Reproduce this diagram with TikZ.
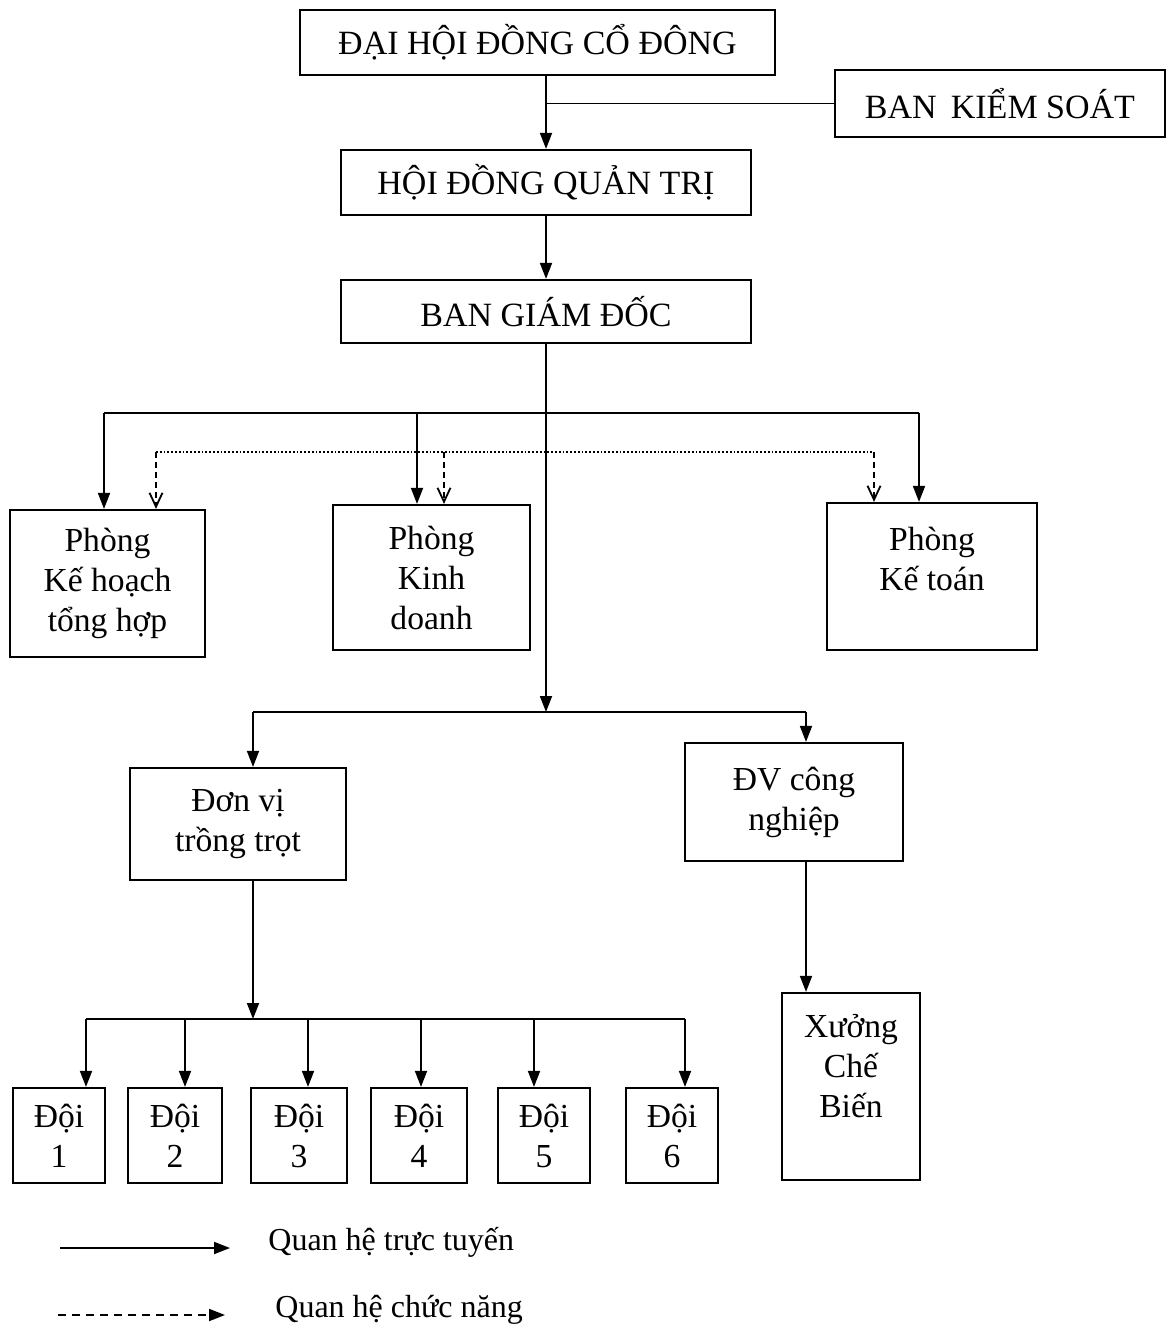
\documentclass[tikz,border=0pt]{standalone}
\usepackage{fontspec}
\setmainfont{Liberation Serif}
\usetikzlibrary{arrows.meta}
\begin{document}
\begin{tikzpicture}[x=0.5pt,y=-0.5pt,
  box/.style={draw, line width=1.1pt, inner sep=0pt, align=center, font=\fontsize{16.8}{20}\selectfont},
  bigbox/.style={box, font=\fontsize{17}{20}\selectfont},
  ln/.style={line width=0.9pt},
  arr/.style={ln, -{Triangle[length=8pt,width=6pt]}},
  farr/.style={ln, dash pattern=on 3pt off 2pt, -{Straight Barb[length=7pt,width=6.5pt]}},
  legtext/.style={anchor=west, inner sep=0pt, font=\fontsize{16}{20}\selectfont},
]
\useasboundingbox (0,0) rectangle (1167,1331);

% boxes
\node[bigbox, minimum width=237.5pt, minimum height=32.5pt] (dhcd) at (537.5,42.5) {ĐẠI HỘI ĐỒNG CỔ ĐÔNG};
\node[bigbox, minimum width=165pt, minimum height=33.5pt] (bks) at (1000,103.5) {BAN\, KIỂM SOÁT};
\node[bigbox, minimum width=205pt, minimum height=32.5pt] (hdqt) at (546,182.5) {HỘI ĐỒNG QUẢN TRỊ};
\node[bigbox, minimum width=205pt, minimum height=31.5pt] (bgd) at (546,311.5) {BAN GIÁM ĐỐC};

\node[box, minimum width=97.5pt, minimum height=73.5pt] (pkh) at (107.5,583.5) {Phòng\\Kế hoạch\\tổng hợp};
\node[box, minimum width=98.5pt, minimum height=72.5pt] (pkd) at (431.5,577.5) {Phòng\\Kinh\\doanh};
\node[box, minimum width=105pt, minimum height=73.5pt] (pkt) at (932,576.5) {Phòng\\Kế toán\\[-8pt]\strut};

\node[box, minimum width=108pt, minimum height=56pt] (dvtt) at (238,824) {Đơn vị\\trồng trọt};
\node[box, minimum width=109pt, minimum height=59pt] (dvcn) at (794,802) {ĐV công\\nghiệp};
\node[box, minimum width=69pt, minimum height=93.5pt] (xcb) at (851,1086.5) {Xưởng\\Chế\\Biến\\[-5pt]\strut};

\node[box, minimum width=46pt, minimum height=47.5pt] (d1) at (59,1135.5) {Đội\\1};
\node[box, minimum width=47pt, minimum height=47.5pt] (d2) at (175,1135.5) {Đội\\2};
\node[box, minimum width=48pt, minimum height=47.5pt] (d3) at (299,1135.5) {Đội\\3};
\node[box, minimum width=48pt, minimum height=47.5pt] (d4) at (419,1135.5) {Đội\\4};
\node[box, minimum width=46pt, minimum height=47.5pt] (d5) at (544,1135.5) {Đội\\5};
\node[box, minimum width=46pt, minimum height=47.5pt] (d6) at (672,1135.5) {Đội\\6};

% top connectors
\draw[arr] (hdqt.north |- dhcd.south) -- (hdqt.north);
\draw[ln] (bks.west) -- (bks.west -| hdqt.north);
\draw[arr] (hdqt.south) -- (bgd.north);

% trunk from BGD
\coordinate (j2) at (546,712);
\draw[arr] (bgd.south) -- (j2);

% line relations to departments
\coordinate (b1l) at (104,413);
\coordinate (b1m) at (417,413);
\coordinate (b1r) at (919,413);
\draw[ln] (b1l) -- (b1r);
\draw[arr] (b1l) -- (b1l |- pkh.north);
\draw[arr] (b1m) -- (b1m |- pkd.north);
\draw[arr] (b1r) -- (b1r |- pkt.north);

% functional relations
\coordinate (f1l) at (156,452);
\coordinate (f1m) at (444,452);
\coordinate (f1r) at (874,452);
\draw[ln, densely dotted] (f1l) -- (f1r);
\draw[farr] (f1l) -- (f1l |- pkh.north);
\draw[farr] (f1m) -- (f1m |- pkd.north);
\draw[farr] (f1r) -- (f1r |- pkt.north);

% units
\coordinate (b2l) at (253,712);
\coordinate (b2r) at (806,712);
\draw[ln] (b2l) -- (b2r);
\draw[arr] (b2l) -- (b2l |- dvtt.north);
\draw[arr] (b2r) -- (b2r |- dvcn.north);
\draw[arr] (dvcn.south -| b2r) -- (xcb.north -| b2r);

% teams
\coordinate (b3) at (253,1019);
\draw[arr] (dvtt.south -| b3) -- (b3);
\coordinate (c1) at (86,1019);
\coordinate (c2) at (185,1019);
\coordinate (c3) at (308,1019);
\coordinate (c4) at (421,1019);
\coordinate (c5) at (534,1019);
\coordinate (c6) at (685,1019);
\draw[ln] (c1) -- (c6);
\draw[arr] (c1) -- (c1 |- d1.north);
\draw[arr] (c2) -- (c2 |- d2.north);
\draw[arr] (c3) -- (c3 |- d3.north);
\draw[arr] (c4) -- (c4 |- d4.north);
\draw[arr] (c5) -- (c5 |- d5.north);
\draw[arr] (c6) -- (c6 |- d6.north);

% legend
\coordinate (l1a) at (60,1248);
\coordinate (l1b) at (230,1248);
\draw[arr] (l1a) -- (l1b);
\node[legtext] (lt1) at (268,1242) {Quan hệ trực tuyến};
\coordinate (l2a) at (58,1315);
\coordinate (l2b) at (225,1315);
\draw[ln, dash pattern=on 4pt off 3pt, -{Triangle[length=8pt,width=6pt]}] (l2a) -- (l2b);
\node[legtext] (lt2) at (275,1310) {Quan hệ chức năng};
\end{tikzpicture}
\end{document}
